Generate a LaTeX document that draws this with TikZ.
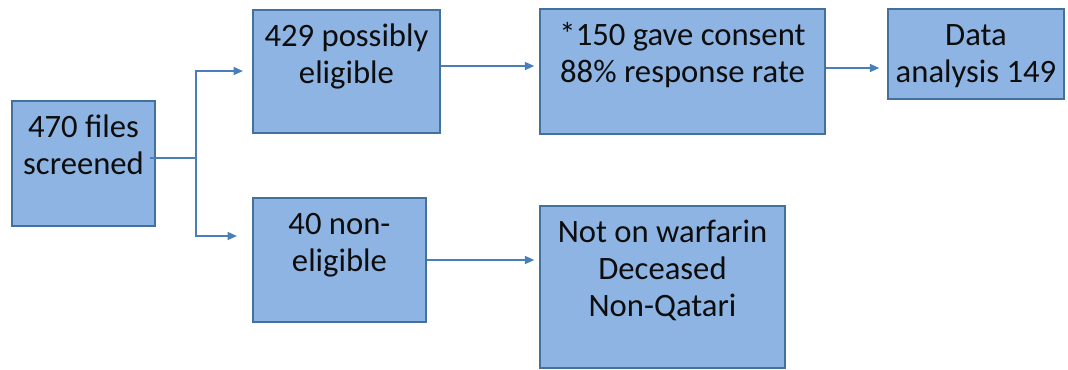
\documentclass[tikz,border=0pt]{standalone}
\usepackage{fontspec}
\setmainfont{Carlito}
\usetikzlibrary{arrows.meta,calc}
\definecolor{boxfill}{HTML}{8EB4E3}
\definecolor{boxline}{HTML}{41719C}
\definecolor{connline}{HTML}{4A7EBB}
\tikzset{
  box/.style={draw=boxline, fill=boxfill, line width=1.1pt, rectangle, inner sep=0pt},
  lbl/.style={anchor=base, align=center, inner sep=0pt, text=black!95,
    font=\fontsize{24.5pt}{27.75pt}\selectfont},
  conn/.style={draw=connline, line width=1.1pt},
  arr/.style={conn, -{Triangle[length=7pt,width=6pt]}},
}
\begin{document}
\begin{tikzpicture}[x=0.75pt,y=-0.75pt]
\useasboundingbox (0,0) rectangle (1068,369);
% boxes
\node[box, minimum width=107.25pt, minimum height=93.75pt] (A) at (83.5,163.5) {};
\node[box, minimum width=140.25pt, minimum height=92.25pt] (B) at (346.5,71.5) {};
\node[box, minimum width=213.75pt, minimum height=93.75pt] (C) at (682.5,71.5) {};
\node[box, minimum width=132pt, minimum height=67.5pt] (D) at (976,54) {};
\node[box, minimum width=129.75pt, minimum height=93pt] (E) at (339.5,260) {};
\node[box, minimum width=183.75pt, minimum height=121.5pt] (F) at (662.5,287) {};
% texts (anchor base = baseline of the last line)
\node[lbl] (tA) at (83.5,174) {470 files\\screened};
\node[lbl] (tB) at (346.5,83) {429 possibly\\eligible};
\node[lbl] (tC) at (682.5,82) {*150 gave consent\\88\% response rate};
\node[lbl] (tD) at (976,82) {Data\\analysis 149};
\node[lbl] (tE) at (339.5,271) {40 non-\\eligible};
\node[lbl] (tF) at (662.5,316) {Not on warfarin\\Deceased\\Non-Qatari};
% connectors
\coordinate (J) at (196,158);
\draw[conn, line width=1.8pt] ([xshift=-4.5pt]A.east |- J) -- (J);
\draw[arr, shorten >=7pt] (J) |- (B.west |- 0,71);
\draw[arr, shorten >=11.5pt] (J) |- (E.west |- 0,236);
\draw[arr, shorten >=3.75pt] (B.east |- 0,66) -- (C.west |- 0,66);
\draw[arr, shorten >=6pt] (C.east |- 0,68) -- (D.west |- 0,68);
\draw[arr, shorten >=3.75pt] (E.east |- 0,260) -- (F.west |- 0,260);
\end{tikzpicture}
\end{document}
